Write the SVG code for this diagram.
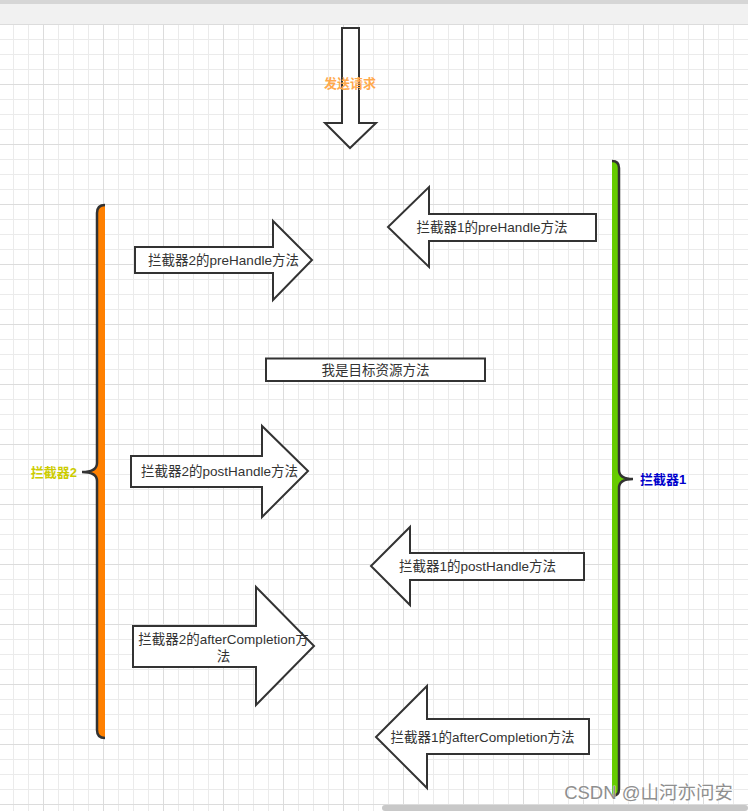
<svg xmlns="http://www.w3.org/2000/svg" width="748" height="811" viewBox="0 0 748 811">
<style>
.arr{fill:#ffffff;stroke:#333333;stroke-width:2;stroke-linejoin:miter}
.lbl{font-family:"Liberation Sans","Noto Sans CJK SC",sans-serif;font-size:13.5px;fill:#333333;text-anchor:middle;dominant-baseline:central}
.blab{font-family:"Liberation Sans","Noto Sans CJK SC",sans-serif;font-size:13px;font-weight:bold;dominant-baseline:central}
.brk{fill:none;stroke:#333333;stroke-width:2.5}
</style>
<defs>
<pattern id="grid" x="43" y="24" width="60" height="60" patternUnits="userSpaceOnUse">
<path d="M15.5,0V60M30.5,0V60M45.5,0V60M0,15.5H60M0,30.5H60M0,45.5H60" stroke="#ebebeb" stroke-width="1" fill="none"/>
<path d="M0.5,0V60M0,0.5H60" stroke="#dcdcdc" stroke-width="1" fill="none"/>
</pattern>
</defs>
<rect x="0" y="0" width="748" height="811" fill="#ffffff"/>
<rect x="0" y="24" width="748" height="787" fill="url(#grid)"/>
<rect x="0" y="0" width="748" height="24" fill="#f1f1f1"/>
<rect x="0" y="0" width="748" height="4" fill="#d6d6d6"/>

<g id="send-request">
<polygon class="arr" points="342,28 359,28 359,123 376,123 350,148 325,123 342,123"/>
<text x="350" y="83" class="blab" fill="#FFA94D" style="fill:#FFA94D" text-anchor="middle">发送请求</text>
</g>

<g id="interceptor2">
<path d="M105,205 Q97,205 97,213 L97,463 Q97,472 82,472 Q97,472 97,481 L97,730 Q97,738 105,738 Z" fill="#FF8000"/>
<path class="brk" d="M105,205 Q97,205 97,213 L97,463 Q97,472 82,472 Q97,472 97,481 L97,730 Q97,738 105,738"/>
<text x="77" y="472" class="blab" style="fill:#CCCC00" text-anchor="end">拦截器2</text>
</g>

<g id="interceptor1">
<path d="M612,161 Q619,161 619,168 L619,470 Q619,479 633,479 Q619,479 619,488 L619,789 Q619,796 612,796 Z" fill="#66CC00"/>
<path class="brk" d="M612,161 Q619,161 619,168 L619,470 Q619,479 633,479 Q619,479 619,488 L619,789 Q619,796 612,796"/>
<text x="640" y="479" class="blab" style="fill:#0000CC">拦截器1</text>
</g>

<g id="pre2">
<polygon class="arr" points="135,247 273,247 273,221 312,260 273,300 273,273 135,273"/>
<text x="223.5" y="260" class="lbl">拦截器2的preHandle方法</text>
</g>

<g id="pre1">
<polygon class="arr" points="596,214 429,214 429,187 388,227 429,267 429,241 596,241"/>
<text x="492" y="227.5" class="lbl">拦截器1的preHandle方法</text>
</g>

<g id="target">
<rect x="266" y="358.5" width="219" height="22.5" fill="#ffffff" stroke="#333333" stroke-width="2"/>
<text x="375.5" y="370" class="lbl">我是目标资源方法</text>
</g>

<g id="post2">
<polygon class="arr" points="131,456 262,456 262,426 308,471 262,517 262,487 131,487"/>
<text x="219.5" y="471" class="lbl">拦截器2的postHandle方法</text>
</g>

<g id="post1">
<polygon class="arr" points="584,553 410,553 410,527 371,566 410,605 410,580 584,580"/>
<text x="477.5" y="566" class="lbl">拦截器1的postHandle方法</text>
</g>

<g id="after2">
<polygon class="arr" points="133,626 256,626 256,587 314,646 256,705 256,667 133,667"/>
<text x="223.5" y="639.5" class="lbl">拦截器2的afterCompletion方</text>
<text x="223.5" y="656" class="lbl">法</text>
</g>

<g id="after1">
<polygon class="arr" points="589,719 427,719 427,686 376,737 427,788 427,754 589,754"/>
<text x="482.5" y="737" class="lbl">拦截器1的afterCompletion方法</text>
</g>

<g id="connectors"></g>

<rect x="382" y="805" width="366" height="6" rx="3" fill="#c8c8c8"/>
<text x="733" y="799" font-family="Liberation Sans,'Noto Sans CJK SC',sans-serif" font-size="18.5" fill="#8f8f8f" stroke="#ffffff" stroke-width="0.6" paint-order="stroke" text-anchor="end">CSDN @山河亦问安</text>
</svg>
